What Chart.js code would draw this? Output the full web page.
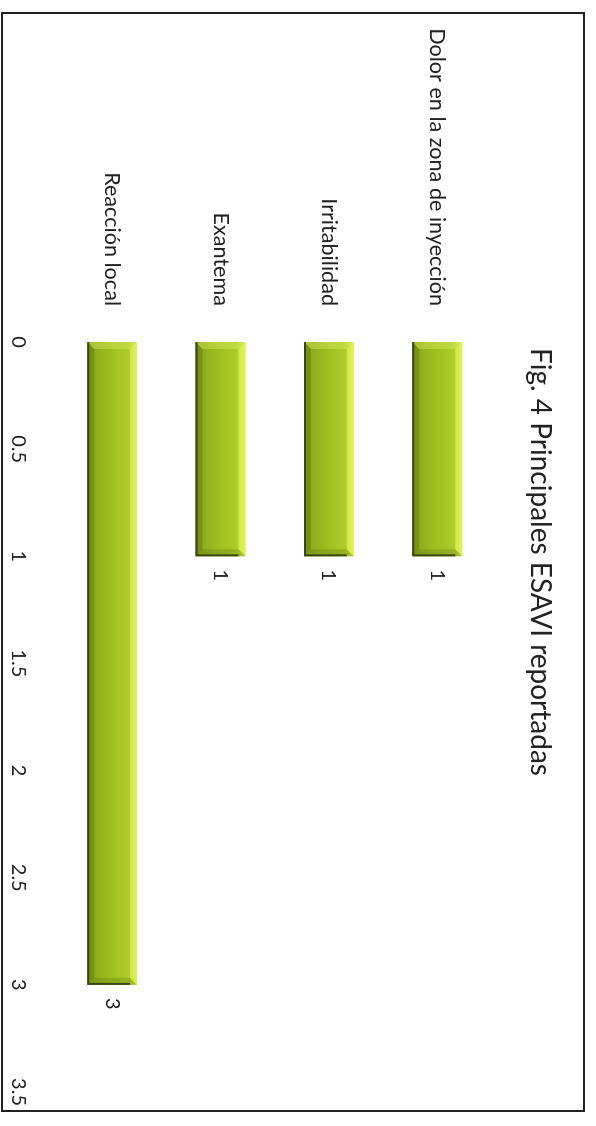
<!DOCTYPE html>
<html>
<head>
<meta charset="utf-8">
<script src="https://cdn.jsdelivr.net/npm/chart.js@4.4.1/dist/chart.umd.min.js"></script>
<style>
  html, body { margin: 0; padding: 0; background: #fff; }
  body { width: 596px; height: 1126px; overflow: hidden; position: relative; }
  /* the chart is laid out landscape and turned a quarter clockwise */
  .turn {
    position: absolute; left: 0; top: 0;
    width: 1126px; height: 596px;
    transform-origin: 0 0;
    transform: translateX(596px) rotate(90deg);
  }
  .frame {
    position: absolute; left: 12px; top: 11px;
    width: 1096px; height: 580px;
    border: 2px solid #222;
  }
  canvas { position: absolute; left: 0; top: 0; }
</style>
</head>
<body>
<div class="turn">
  <div class="frame"></div>
  <canvas id="esaviChart" width="1126" height="596"></canvas>
</div>
<script>
const categories = ["Dolor en la zona de inyección", "Irritabilidad", "Exantema", "Reacción local"];
const counts = [1, 1, 1, 3];
const valueTicks = [0, 0.5, 1, 1.5, 2, 2.5, 3, 3.5];
const titleText = "Fig. 4 Principales ESAVI reportadas";

const fontFamily = "Lato, 'Open Sans', sans-serif";
const textColor = "#222";
const barPct = 0.46;

function poly(c, pts, fill) {
  c.beginPath();
  c.moveTo(pts[0][0], pts[0][1]);
  pts.slice(1).forEach((p) => c.lineTo(p[0], p[1]));
  c.closePath();
  c.fillStyle = fill;
  c.fill();
}

// long category label is wider than the axis box, so widen the label clip
const labelRoomPlugin = {
  id: "labelRoom",
  afterLayout(chart) {
    chart.scales.y.left = 0;
  },
};

const bevelPlugin = {
  id: "bevel",
  afterDatasetsDraw(chart) {
    const c = chart.ctx;
    chart.getDatasetMeta(0).data.forEach((bar) => {
      const { x, y, base, height } = bar.getProps(["x", "y", "base", "height"], true);
      const top = y - height / 2;
      const bottom = y + height / 2;
      const left = base;
      const right = x;
      const b = 7;
      c.save();
      poly(c, [[left, top], [right, top], [right - b, top + b], [left + b, top + b]], "rgba(236,248,110,0.5)");
      poly(c, [[left, bottom], [right, bottom], [right - b, bottom - b], [left + b, bottom - b]], "rgba(70,90,10,0.30)");
      poly(c, [[right, top], [right, bottom], [right - b, bottom - b], [right - b, top + b]], "rgba(90,110,10,0.28)");
      poly(c, [[left, top], [left, bottom], [left + b, bottom - b], [left + b, top + b]], "rgba(230,245,110,0.35)");
      c.strokeStyle = "#3c4812";
      c.lineWidth = 2;
      c.beginPath();
      c.moveTo(left, bottom - 1);
      c.lineTo(right - 1, bottom - 1);
      c.lineTo(right - 1, top + b);
      c.stroke();
      c.restore();
    });
  },
};

const valueLabelPlugin = {
  id: "valueLabels",
  afterDatasetsDraw(chart) {
    const c = chart.ctx;
    const meta = chart.getDatasetMeta(0);
    c.save();
    c.font = "20px " + fontFamily;
    c.fillStyle = textColor;
    c.textAlign = "center";
    c.textBaseline = "middle";
    meta.data.forEach((bar, i) => {
      c.fillText(String(counts[i]), bar.x + 19, bar.y);
    });
    c.restore();
  },
};

const chartEl = document.getElementById("esaviChart");
new Chart(chartEl, {
  type: "bar",
  data: {
    labels: categories,
    datasets: [
      {
        data: counts,
        backgroundColor: (ctx) => {
          const chart = ctx.chart;
          const yScale = chart.scales.y;
          if (!yScale || !chart.chartArea) {
            return "#9fbf22";
          }
          const cy = yScale.getPixelForValue(ctx.dataIndex);
          const half = (yScale.height / categories.length) * barPct / 2;
          const g = chart.ctx.createLinearGradient(0, cy - half, 0, cy + half);
          g.addColorStop(0, "#d8ea48");
          g.addColorStop(0.18, "#aecb29");
          g.addColorStop(0.55, "#9ebe21");
          g.addColorStop(1, "#86a418");
          return g;
        },
        borderWidth: 0,
        categoryPercentage: 1,
        barPercentage: barPct,
      },
    ],
  },
  options: {
    indexAxis: "y",
    responsive: false,
    animation: false,
    layout: { padding: { left: 26, right: 28, top: 0, bottom: 0 } },
    plugins: {
      legend: { display: false },
      tooltip: { enabled: false },
      title: {
        display: true,
        text: titleText,
        color: textColor,
        font: { family: fontFamily, size: 28, weight: "normal" },
        padding: { top: 39, bottom: 32 },
      },
    },
    scales: {
      x: {
        min: 0,
        max: 3.5,
        grid: { display: false },
        border: { display: false },
        afterBuildTicks: (scale) => {
          scale.ticks = valueTicks.map((v) => ({ value: v }));
        },
        afterFit: (scale) => {
          scale.height = 58;
        },
        ticks: {
          color: textColor,
          padding: 20,
          font: { family: fontFamily, size: 20 },
          callback: (v) => String(v),
        },
      },
      y: {
        grid: { display: false },
        border: { display: false },
        afterFit: (scale) => {
          scale.width = 316;
        },
        ticks: {
          color: textColor,
          padding: 28,
          font: { family: fontFamily, size: 21.6 },
        },
      },
    },
  },
  plugins: [labelRoomPlugin, bevelPlugin, valueLabelPlugin],
});
</script>
</body>
</html>
